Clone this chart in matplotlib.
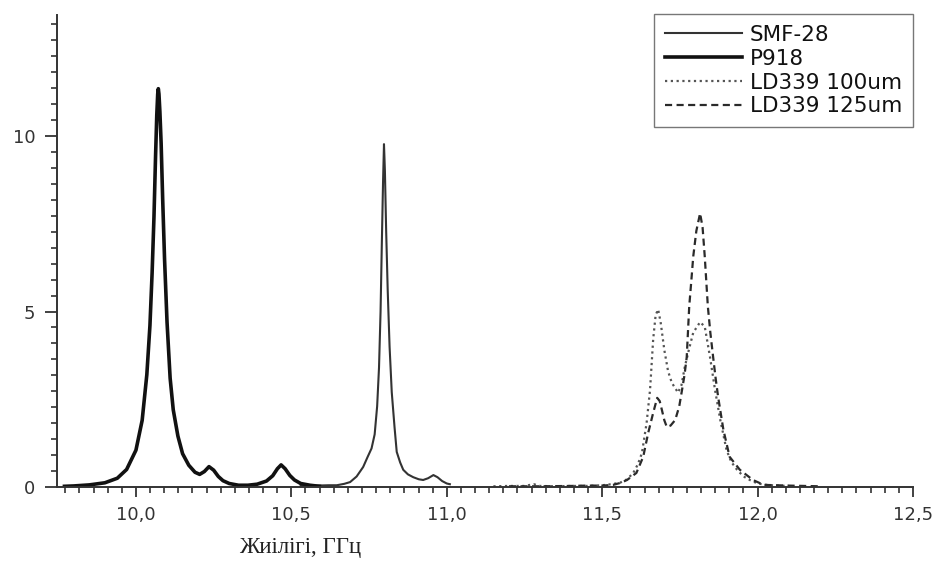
import matplotlib
matplotlib.use("Agg")
import matplotlib.pyplot as plt
from matplotlib.ticker import FixedLocator, FixedFormatter

# ---- data ----
p918_x = [9.77, 9.80, 9.85, 9.90, 9.94, 9.97, 10.00, 10.02, 10.035, 10.045, 10.052, 10.058,
          10.063, 10.067, 10.070, 10.072, 10.074, 10.077, 10.081, 10.086, 10.092, 10.10, 10.11,
          10.12, 10.135, 10.15, 10.17, 10.19, 10.205, 10.22, 10.235, 10.25, 10.265, 10.28, 10.30,
          10.33, 10.36, 10.39, 10.42, 10.44, 10.455, 10.467, 10.48, 10.495, 10.51, 10.53, 10.56, 10.59]
p918_y = [0.02, 0.03, 0.06, 0.12, 0.25, 0.5, 1.05, 1.9, 3.2, 4.6, 6.1, 7.7,
          9.4, 10.6, 11.2, 11.35, 11.2, 10.7, 9.8, 8.2, 6.5, 4.7, 3.1,
          2.2, 1.45, 0.95, 0.62, 0.42, 0.36, 0.44, 0.58, 0.48, 0.3, 0.18, 0.1,
          0.05, 0.05, 0.08, 0.17, 0.32, 0.52, 0.63, 0.52, 0.33, 0.2, 0.1, 0.05, 0.02]

smf_x = [10.53, 10.58, 10.62, 10.646, 10.67, 10.689, 10.71, 10.731, 10.745, 10.758, 10.768,
         10.776, 10.782, 10.787, 10.791, 10.795, 10.798, 10.801, 10.805, 10.81, 10.816, 10.823,
         10.832, 10.839, 10.85, 10.86, 10.875, 10.892, 10.91, 10.924, 10.94, 10.957, 10.97,
         10.985, 11.0, 11.01]
smf_y = [0.04, 0.04, 0.05, 0.05, 0.09, 0.14, 0.3, 0.57, 0.85, 1.1, 1.5,
         2.3, 3.4, 5.0, 6.9, 8.7, 9.77, 9.0, 7.3, 5.6, 4.0, 2.7,
         1.7, 1.0, 0.7, 0.49, 0.36, 0.28, 0.22, 0.2, 0.25, 0.34, 0.28,
         0.17, 0.1, 0.08]

ld100_x = [11.15, 11.2, 11.25, 11.28, 11.3, 11.35, 11.4, 11.45, 11.5, 11.53, 11.557, 11.58,
           11.6, 11.615, 11.628, 11.643, 11.654, 11.664, 11.672, 11.68, 11.688, 11.70, 11.712,
           11.724, 11.744, 11.755, 11.766, 11.78, 11.793, 11.815, 11.83, 11.847, 11.863, 11.88,
           11.9, 11.915, 11.934, 11.955, 11.975, 12.0, 12.03, 12.06, 12.1]
ld100_y = [0.02, 0.03, 0.03, 0.08, 0.03, 0.02, 0.03, 0.03, 0.05, 0.08, 0.12, 0.22,
           0.4, 0.65, 0.97, 1.83, 2.77, 4.2, 4.9, 5.06, 4.7, 3.9, 3.3,
           2.97, 2.69, 2.9, 3.43, 3.95, 4.4, 4.7, 4.57, 3.7, 2.77, 1.91,
           1.06, 0.72, 0.49, 0.3, 0.2, 0.1, 0.06, 0.04, 0.03]

ld125_x = [11.2, 11.3, 11.4, 11.45, 11.5, 11.535, 11.56, 11.58, 11.61, 11.632, 11.648, 11.664,
           11.677, 11.685, 11.692, 11.70, 11.708, 11.72, 11.735, 11.748, 11.757, 11.765, 11.772,
           11.78, 11.787, 11.793, 11.803, 11.815, 11.823, 11.83, 11.84, 11.848, 11.857, 11.865,
           11.873, 11.89, 11.91, 11.943, 11.985, 12.02, 12.06, 12.1, 12.15, 12.2]
ld125_y = [0.02, 0.02, 0.03, 0.04, 0.04, 0.06, 0.12, 0.2, 0.4, 0.86, 1.54, 2.11,
           2.54, 2.45, 2.2, 1.9, 1.71, 1.75, 1.91, 2.3, 2.77, 3.2, 3.7,
           5.14, 5.9, 6.57, 7.3, 7.8, 7.4, 6.57, 5.14, 4.4, 3.7, 3.1,
           2.57, 1.63, 0.86, 0.49, 0.2, 0.06, 0.05, 0.04, 0.03, 0.02]

series_labels = ["SMF-28", "P918", "LD339 100um", "LD339 125um"]
x_ticks = [10.0, 10.5, 11.0, 11.5, 12.0, 12.5]
x_tick_labels = ["10,0", "10,5", "11,0", "11,5", "12,0", "12,5"]
y_ticks = [0, 5, 10]
y_tick_labels = ["0", "5", "10"]
x_label = "Жиілігі, ГГц"

# ---- figure ----
plt.rcParams['font.family'] = ['DejaVu Sans']
fig = plt.figure(figsize=(9.4, 5.69), dpi=100)
ax = fig.add_axes([57/940, 1-487/569, (913-57)/940, (487-15)/569])

l1, = ax.plot(smf_x, smf_y, color="#333333", lw=1.5, label=series_labels[0])
l2, = ax.plot(p918_x, p918_y, color="#111111", lw=2.6, label=series_labels[1])
l3, = ax.plot(ld100_x, ld100_y, color="#555555", lw=1.6, linestyle=(0, (1, 1.6)),
              label=series_labels[2])
l4, = ax.plot(ld125_x, ld125_y, color="#2a2a2a", lw=1.6, linestyle=(0, (3.2, 2.0)),
              label=series_labels[3])

ax.set_xlim(9.746, 12.5)
ax.set_ylim(0, 13.45)

for s in ["top", "right"]:
    ax.spines[s].set_visible(False)
for s in ["left", "bottom"]:
    ax.spines[s].set_color("#333333")
    ax.spines[s].set_linewidth(1.4)

# Origin-style axes: 10 minor ticks between majors
x_minor = [10.0 + k * 0.5 / 11 for k in range(-5, 56)]
y_minor = [k * 5 / 11 for k in range(0, 30)]
ax.xaxis.set_major_locator(FixedLocator(x_ticks))
ax.xaxis.set_major_formatter(FixedFormatter(x_tick_labels))
ax.xaxis.set_minor_locator(FixedLocator(x_minor))
ax.yaxis.set_major_locator(FixedLocator(y_ticks))
ax.yaxis.set_major_formatter(FixedFormatter(y_tick_labels))
ax.yaxis.set_minor_locator(FixedLocator(y_minor))

ax.tick_params(axis="x", which="major", length=7, width=1.3, color="#333333",
               labelsize=13, labelcolor="#333333", pad=7)
ax.tick_params(axis="x", which="minor", length=4.3, width=1.2, color="#333333")
ax.tick_params(axis="y", which="major", length=8.6, width=1.3, color="#333333",
               labelsize=13, labelcolor="#333333", pad=7)
ax.tick_params(axis="y", which="minor", length=4.0, width=1.2, color="#333333")

leg = ax.legend(handles=[l1, l2, l3, l4], loc="upper right", bbox_to_anchor=(1.0, 1.002),
                borderaxespad=0.0, fontsize=15.5, frameon=True, fancybox=False,
                handlelength=3.6, handletextpad=0.35, labelspacing=0.18,
                borderpad=0.5, edgecolor="#555555")
leg.get_frame().set_linewidth(1.0)
for t in leg.get_texts():
    t.set_color("#111111")

fig.text(300/940, 1-548/569, x_label, ha="center", va="center",
         fontsize=16.5, family=["Liberation Serif", "DejaVu Serif"], color="#222222")

fig.savefig("out.png", dpi=100, facecolor="white")
